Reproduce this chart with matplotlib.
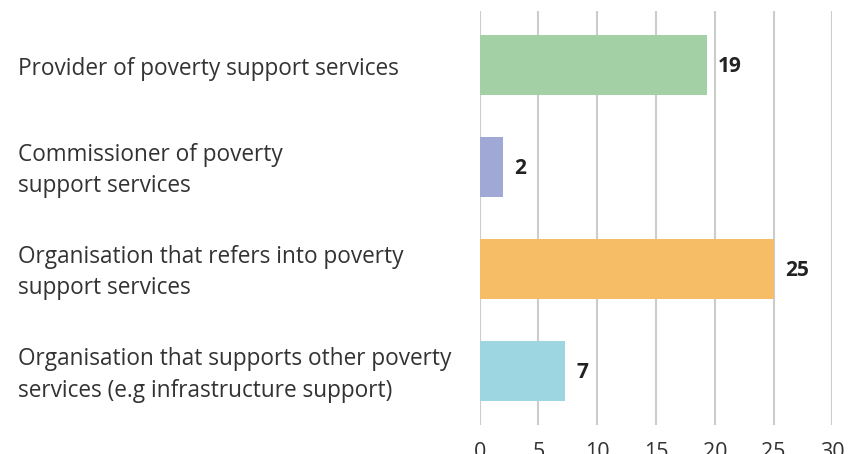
import matplotlib
matplotlib.use("Agg")
import matplotlib.pyplot as plt
import matplotlib.transforms as mtransforms

categories = [
    "Provider of poverty support services",
    "Commissioner of poverty\nsupport services",
    "Organisation that refers into poverty\nsupport services",
    "Organisation that supports other poverty\nservices (e.g infrastructure support)",
]
values = [19.3, 2.0, 25.0, 7.25]
colors = ["#a3d1a5", "#a0a8d6", "#f7bc66", "#9dd5e1"]
xticks = [0, 5, 10, 15, 20, 25, 30]

plt.rcParams['font.family'] = ['Open Sans', 'DejaVu Sans']
text_color = "#333333"

fig = plt.figure(figsize=(8.5, 4.54), dpi=100)
ax = fig.add_axes([479.7 / 850, 1 - 425 / 454, (832.3 - 479.7) / 850, (425 - 10.7) / 454])

ypos = list(range(len(categories)))
ax.barh(ypos, values, height=0.59, color=colors, zorder=3)
ax.set_xlim(0, 30)
ax.set_ylim(3.53, -0.53)
ax.set_xticks(xticks)
ax.set_xticklabels([str(t) for t in xticks], fontsize=15.5, color=text_color)
ax.tick_params(axis='x', length=0, pad=12)
ax.set_yticks([])
for s in ax.spines.values():
    s.set_visible(False)
ax.grid(axis='x', color="#cccccc", linewidth=1.5, zorder=0)
ax.set_axisbelow(True)

for y, v in zip(ypos, values):
    ax.text(v + 0.95, y, f"{v:.0f}", va='center', ha='left', fontsize=15,
            fontweight='bold', color="#222222",
            transform=ax.transData + mtransforms.ScaledTranslation(0, -2 / 100, fig.dpi_scale_trans))

label_tr = mtransforms.blended_transform_factory(fig.transFigure, ax.transData) + \
    mtransforms.ScaledTranslation(0, -4 / 100, fig.dpi_scale_trans)
for y, c in zip(ypos, categories):
    ax.text(18 / 850, y, c, transform=label_tr, fontsize=16.3, color=text_color,
            va='center', ha='left', linespacing=1.4)

fig.savefig("out.png", dpi=100)
